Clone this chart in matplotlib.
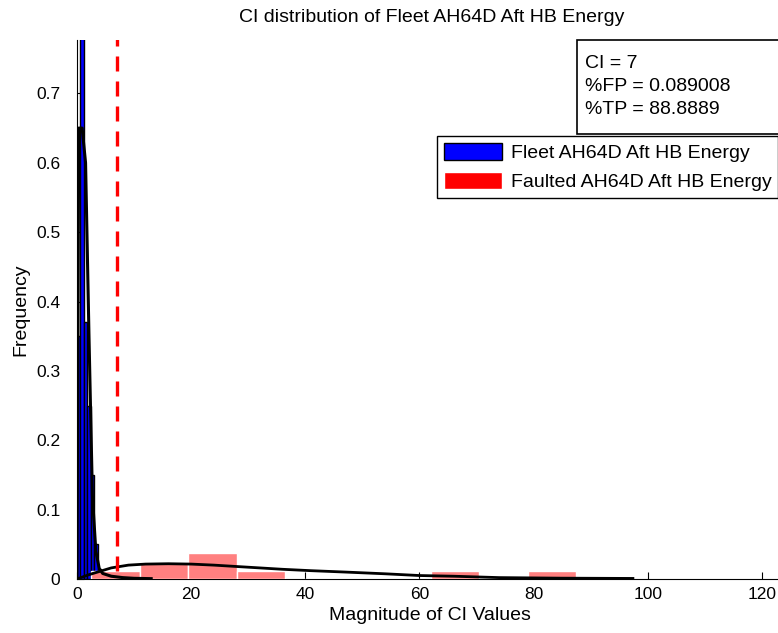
import matplotlib
matplotlib.use("Agg")
import matplotlib.pyplot as plt
from matplotlib.patches import Rectangle, Patch
import numpy as np

plt.rcParams['font.family'] = ['Liberation Sans', 'DejaVu Sans']

# fleet histogram (narrow bins near zero)
fleet_edges = [0, 0.6, 1.2, 1.8, 2.4, 3.0, 3.6, 4.2, 4.8]
fleet_freq = [0.35, 0.95, 0.37, 0.25, 0.15, 0.05, 0.015, 0.005]

# fleet fitted curve
fleet_fit_x = [0, 0.3, 0.9, 1.5, 2.1, 2.7, 3.0, 3.3, 3.9, 4.5, 6, 8, 10, 13]
fleet_fit_y = [0, 0.65, 0.65, 0.60, 0.35, 0.12, 0.08, 0.04, 0.015, 0.008, 0.004, 0.002, 0.001, 0.0005]

# faulted histogram
fault_edges = [2.5, 11.0, 19.5, 28.0, 36.5, 45.0, 53.5, 62.0, 70.5, 79.0, 87.5]
fault_freq = [0.012, 0.024, 0.037, 0.012, 0, 0, 0, 0.012, 0, 0.012]

# faulted fitted curve
fault_fit_x = [0, 2, 4, 6, 9, 12, 16, 20, 24, 28, 32, 36, 41, 47, 54, 60, 66, 74, 85, 97.4]
fault_fit_y = [0, 0.006, 0.011, 0.016, 0.020, 0.0215, 0.022, 0.0215, 0.020, 0.018, 0.016,
               0.014, 0.012, 0.010, 0.0075, 0.005, 0.004, 0.002, 0.0012, 0.0008]

ci = 7
info_lines = ["CI = 7", "%FP = 0.089008", "%TP = 88.8889"]

W, H = 778, 633
fig = plt.figure(figsize=(W / 100, H / 100), dpi=100)
ax = fig.add_axes([77 / W, 54 / H, (783 - 77) / W, (579 - 40) / H])

fw = np.diff(fleet_edges)
ax.bar(fleet_edges[:-1], fleet_freq, width=fw, align='edge', color='#0000ff',
       edgecolor='black', linewidth=1, zorder=2)
aw = np.diff(fault_edges)
ax.bar(fault_edges[:-1], fault_freq, width=aw, align='edge', color='#ff8080',
       edgecolor='white', linewidth=1, zorder=3)
ax.plot(fleet_fit_x, fleet_fit_y, color='black', lw=2.2, zorder=4)
ax.plot(fault_fit_x, fault_fit_y, color='black', lw=2, zorder=4)
ax.plot([ci, ci], [0.012, 0.8], color='red', lw=2.4, dashes=(4.5, 3), zorder=5)

ax.set_xlim(0, 123.7)
ax.set_ylim(0, 0.777)
ax.set_xticks(np.arange(0, 121, 20))
ax.set_yticks(np.arange(0, 0.71, 0.1))
ax.set_yticklabels(['0', '0.1', '0.2', '0.3', '0.4', '0.5', '0.6', '0.7'])
ax.tick_params(direction='in', labelsize=12.5, length=5, pad=6)
ax.tick_params(axis='y', pad=12)
for s in ['top', 'right']:
    ax.spines[s].set_visible(False)
ax.set_xlabel('Magnitude of CI Values', fontsize=14, labelpad=3)
ax.set_ylabel('Frequency', fontsize=14, labelpad=5)
fig.text(432 / W, 1 - 17 / H, 'CI distribution of Fleet AH64D Aft HB Energy',
         ha='center', va='center', fontsize=14)

# info box
fig.patches.append(Rectangle((577 / W, 1 - 134 / H), 250 / W, 94 / H,
                             transform=fig.transFigure, facecolor='white',
                             edgecolor='black', lw=1.2, zorder=10))
for i, t in enumerate(info_lines):
    fig.text(585 / W, 1 - (63 + 23.5 * i) / H, t, ha='left', va='center',
             fontsize=14, zorder=11)

handles = [Patch(facecolor='#0000ff', edgecolor='black'),
           Patch(facecolor='#ff0000', edgecolor='white')]
labels = ['Fleet AH64D Aft HB Energy', 'Faulted AH64D Aft HB Energy']
fig.legend(handles, labels, loc='upper left', bbox_to_anchor=(437 / W, 1 - 136 / H),
           frameon=True, fancybox=False, edgecolor='black', framealpha=1,
           fontsize=14, handlelength=3.0, handleheight=1.0, borderaxespad=0,
           borderpad=0.35, labelspacing=0.5, handletextpad=0.45)

fig.savefig('out.png', dpi=100)
